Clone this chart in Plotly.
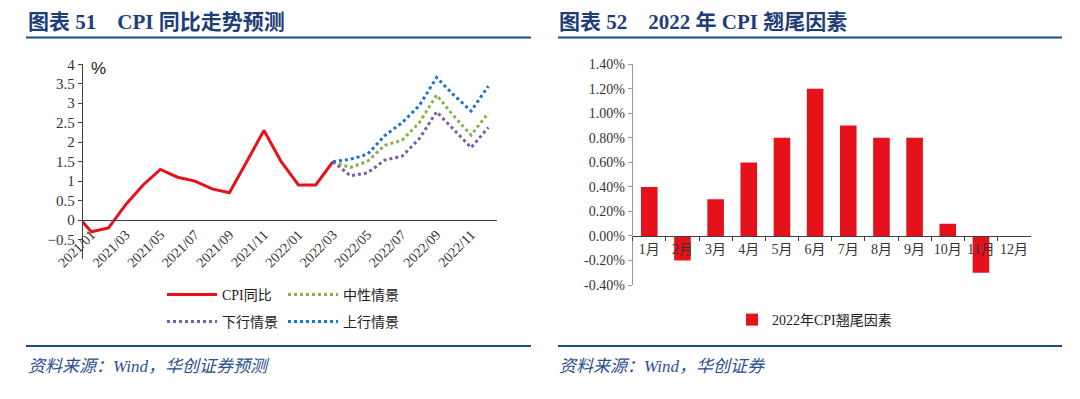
import plotly.graph_objects as go

# ---------------- data ----------------
all_months = ["2020/12"] + [f"2021/{m:02d}" for m in range(1, 13)] + [f"2022/{m:02d}" for m in range(1, 13)]
label_months = [f"2021/{m:02d}" for m in range(1, 13, 2)] + [f"2022/{m:02d}" for m in range(1, 13, 2)]

cpi_months = ["2020/12", "2021/01", "2021/02", "2021/03", "2021/04", "2021/05", "2021/06", "2021/07",
              "2021/08", "2021/09", "2021/10", "2021/11", "2021/12", "2022/01", "2022/02", "2022/03"]
cpi_values = [0.2, -0.3, -0.2, 0.4, 0.9, 1.3, 1.1, 1.0, 0.8, 0.7, 1.5, 2.3, 1.5, 0.9, 0.9, 1.5]

fc_months = ["2022/03", "2022/04", "2022/05", "2022/06", "2022/07", "2022/08",
             "2022/09", "2022/10", "2022/11", "2022/12"]
neutral_values = [1.5, 1.35, 1.51, 1.92, 2.05, 2.50, 3.21, 2.67, 2.18, 2.75]
down_values = [1.5, 1.14, 1.21, 1.54, 1.64, 2.09, 2.78, 2.31, 1.86, 2.38]
up_values = [1.5, 1.56, 1.69, 2.17, 2.50, 2.94, 3.66, 3.21, 2.80, 3.44]

bar_months = ["1月", "2月", "3月", "4月", "5月", "6月", "7月", "8月", "9月", "10月", "11月", "12月"]
carry_values = [0.4, -0.2, 0.3, 0.6, 0.8, 1.2, 0.9, 0.8, 0.8, 0.1, -0.3, 0.0]

left_yticks = [-0.5, 0, 0.5, 1, 1.5, 2, 2.5, 3, 3.5, 4]
right_yticks = [-0.4, -0.2, 0.0, 0.2, 0.4, 0.6, 0.8, 1.0, 1.2, 1.4]
right_yticktext = [f"{v:.2f}%" for v in right_yticks]

# ---------------- layout geometry ----------------
W, H = 1080, 399
FONT = "Liberation Serif, Noto Sans CJK SC, serif"
CJK = "Liberation Serif, Noto Sans CJK SC, sans-serif"
RED = "#E5121B"
BLUE_TITLE = "#1F3E78"
AXIS = "#404040"

def px_x(p):
    return p / W

def px_y(p):
    return 1 - p / H

L_X = [px_x(82.7), px_x(497)]
L_Y = [px_y(259), px_y(64.3)]
L_RANGE = [-1, 4]
L_POS = L_Y[0] + (0 - L_RANGE[0]) / (L_RANGE[1] - L_RANGE[0]) * (L_Y[1] - L_Y[0])

R_X = [px_x(632.7), px_x(1030.7)]
R_Y = [px_y(285), px_y(64.3)]
R_RANGE = [-0.4, 1.4]
R_POS = R_Y[0] + (0 - R_RANGE[0]) / (R_RANGE[1] - R_RANGE[0]) * (R_Y[1] - R_Y[0])

fig = go.Figure()

fig.add_trace(go.Scatter(x=cpi_months, y=cpi_values, mode="lines", name="CPI同比",
                         line=dict(color=RED, width=3), xaxis="x", yaxis="y", legend="legend"))
fig.add_trace(go.Scatter(x=fc_months, y=neutral_values, mode="lines", name="中性情景",
                         line=dict(color="#8AB050", width=3, dash="dot"), xaxis="x", yaxis="y", legend="legend"))
fig.add_trace(go.Scatter(x=fc_months, y=down_values, mode="lines", name="下行情景",
                         line=dict(color="#7B5EA0", width=3, dash="dot"), xaxis="x", yaxis="y", legend="legend2"))
fig.add_trace(go.Scatter(x=fc_months, y=up_values, mode="lines", name="上行情景",
                         line=dict(color="#1478CC", width=3, dash="dot"), xaxis="x", yaxis="y", legend="legend2"))

fig.add_trace(go.Bar(x=bar_months, y=carry_values, name="2022年CPI翘尾因素", width=0.5,
                     marker=dict(color=RED, line=dict(width=0)),
                     xaxis="x2", yaxis="y2", legend="legend3"))

n = len(all_months)
boundary_ticks = [i + 0.5 for i in range(0, n, 2)]

fig.update_layout(
    width=W, height=H,
    margin=dict(l=0, r=0, t=0, b=0, pad=0, autoexpand=False),
    paper_bgcolor="white", plot_bgcolor="white",
    font=dict(family=FONT, size=13, color="#333333"),
    showlegend=True,
    xaxis=dict(domain=L_X, anchor="free", position=L_POS, type="category",
               categoryorder="array", categoryarray=all_months, range=[0.5, n - 0.5],
               tickmode="array", tickvals=label_months, ticktext=label_months,
               tickangle=-45, ticks="", showline=True, linecolor=AXIS, linewidth=1,
               showgrid=False, zeroline=False, automargin=False,
               tickfont=dict(family=FONT, size=14, color="#333")),
    xaxis3=dict(domain=L_X, anchor="free", position=L_POS, overlaying="x", type="linear",
                range=[0.5, n - 0.5], tickmode="array", tickvals=boundary_ticks,
                ticks="outside", ticklen=4, tickcolor=AXIS, showticklabels=False,
                showline=False, showgrid=False, zeroline=False, automargin=False),
    yaxis=dict(domain=L_Y, anchor="x", range=L_RANGE, tickmode="array", tickvals=left_yticks,
               ticks="outside", ticklen=4, tickcolor=AXIS, showline=True, linecolor=AXIS,
               linewidth=1, showgrid=False, zeroline=False, automargin=False,
               tickfont=dict(family=FONT, size=15, color="#333")),
    xaxis2=dict(domain=R_X, anchor="free", position=R_POS, type="category",
                tickson="boundaries", ticks="outside", ticklen=4, tickcolor=AXIS, tickangle=0,
                showline=True, linecolor=AXIS, linewidth=1, showgrid=False, zeroline=False,
                automargin=False, tickfont=dict(family=FONT, size=14, color="#333")),
    yaxis2=dict(domain=R_Y, anchor="x2", range=R_RANGE, tickmode="array", tickvals=right_yticks,
                ticktext=right_yticktext, ticks="outside", ticklen=4, tickcolor="#999",
                showline=True, linecolor="#999", linewidth=1, showgrid=False, zeroline=False,
                automargin=False, tickfont=dict(family=FONT, size=14, color="#333")),
    bargap=0.5,
    legend=dict(orientation="h", x=px_x(162), y=px_y(295), xanchor="left", yanchor="middle",
                entrywidth=56, font=dict(family=CJK, size=14, color="#222"),
                bgcolor="rgba(0,0,0,0)", itemwidth=50),
    legend2=dict(orientation="h", x=px_x(162), y=px_y(322), xanchor="left", yanchor="middle",
                 entrywidth=56, font=dict(family=CJK, size=14, color="#222"),
                 bgcolor="rgba(0,0,0,0)", itemwidth=50),
    legend3=dict(orientation="h", x=px_x(732), y=px_y(320), xanchor="left", yanchor="middle",
                 font=dict(family=CJK, size=14, color="#222"), bgcolor="rgba(0,0,0,0)"),
)

annotations = [
    dict(text="%", x=px_x(89), y=px_y(68), xref="paper", yref="paper", xanchor="left",
         yanchor="middle", showarrow=False, font=dict(family="Liberation Sans, sans-serif", size=17, color="#222")),
    dict(text="<b>图表 51\u00a0\u00a0\u00a0\u00a0CPI 同比走势预测</b>", x=px_x(26), y=px_y(21.5), xref="paper", yref="paper",
         xanchor="left", yanchor="middle", showarrow=False,
         font=dict(family=FONT, size=21, color=BLUE_TITLE)),
    dict(text="<b>图表 52\u00a0\u00a0\u00a0\u00a02022 年 CPI 翘尾因素</b>", x=px_x(557), y=px_y(21.5), xref="paper", yref="paper",
         xanchor="left", yanchor="middle", showarrow=False,
         font=dict(family=FONT, size=21, color=BLUE_TITLE)),
    dict(text="<i>资料来源：Wind，华创证券预测</i>", x=px_x(26), y=px_y(366), xref="paper", yref="paper",
         xanchor="left", yanchor="middle", showarrow=False,
         font=dict(family=FONT, size=17, color="#2A4F8F")),
    dict(text="<i>资料来源：Wind，华创证券</i>", x=px_x(557), y=px_y(366), xref="paper", yref="paper",
         xanchor="left", yanchor="middle", showarrow=False,
         font=dict(family=FONT, size=17, color="#2A4F8F")),
]
fig.update_layout(annotations=annotations)

shapes = []
for x0, x1 in [(26, 531), (558, 1062)]:
    for yy in (37.5, 346):
        shapes.append(dict(type="line", xref="paper", yref="paper", x0=px_x(x0), x1=px_x(x1),
                           y0=px_y(yy), y1=px_y(yy), line=dict(color="#1F4A86", width=2)))
fig.update_layout(shapes=shapes)

fig.write_html("out.html", config={"displayModeBar": False},
               post_script="document.body.style.margin='0';document.body.style.padding='0';")
